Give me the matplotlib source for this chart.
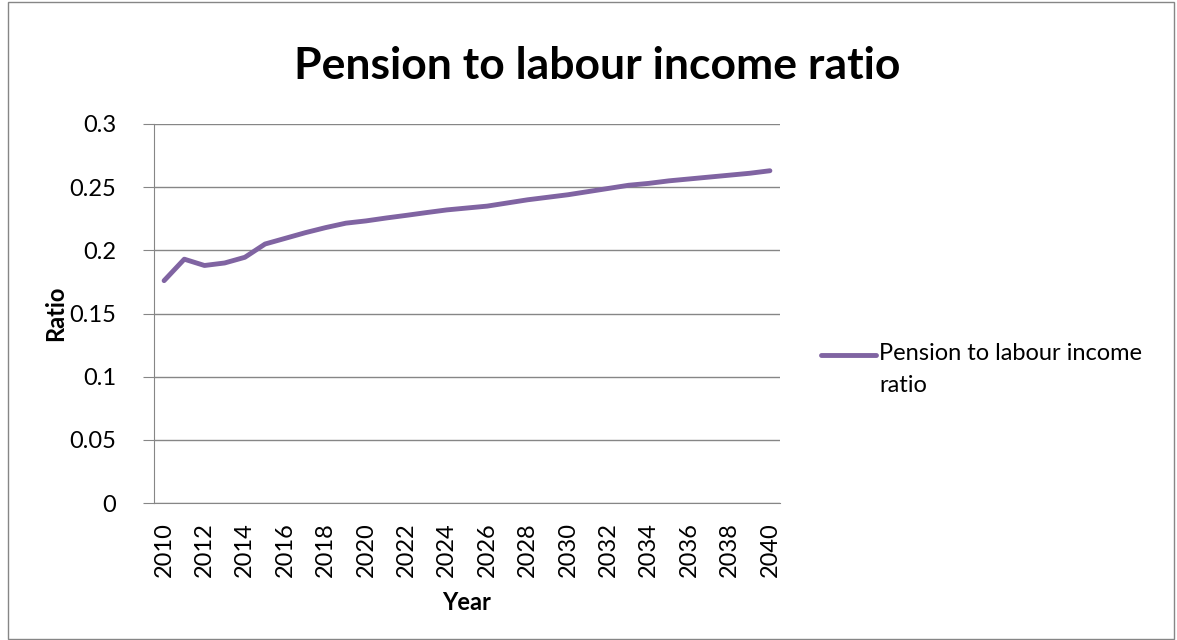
import matplotlib.pyplot as plt
from matplotlib.lines import Line2D
from matplotlib.patches import Rectangle

years = list(range(2010, 2041))
ratio = [0.176, 0.193, 0.188, 0.190, 0.1945, 0.205, 0.2095, 0.214, 0.218, 0.2215,
         0.2233, 0.2256, 0.2277, 0.2299, 0.232, 0.2335, 0.235, 0.2375, 0.240, 0.242,
         0.244, 0.2465, 0.249, 0.2515, 0.253, 0.255, 0.2565, 0.258, 0.2595, 0.261,
         0.263]
yticks = [0, 0.05, 0.1, 0.15, 0.2, 0.25, 0.3]
ytick_labels = ['0', '0.05', '0.1', '0.15', '0.2', '0.25', '0.3']
series_name = 'Pension to labour income\nratio'

plt.rcParams['font.family'] = ['Lato', 'DejaVu Sans']
purple = '#8064A2'
grey = '#868686'

fig = plt.figure(figsize=(11.77, 6.4), dpi=100)
fig.add_artist(Rectangle((8 / 1177, 1 / 640), 1166 / 1177, 637 / 640,
                         transform=fig.transFigure, fill=False, edgecolor=grey, lw=1))

ax = fig.add_axes([154 / 1177, 1 - 503 / 640, 626 / 1177, 379 / 640])
x = list(range(len(years)))
ax.plot(x, ratio, color=purple, lw=3.5, solid_capstyle='round')
ax.set_xlim(-0.5, len(years) - 0.5)
ax.set_ylim(0, 0.3)

ax.set_yticks(yticks)
ax.set_yticklabels(ytick_labels, fontsize=17)
ax.set_xticks(x[::2])
ax.set_xticklabels([str(y) for y in years[::2]], rotation=90, fontsize=17)
ax.tick_params(axis='x', length=0, pad=14)
ax.tick_params(axis='y', length=8, color=grey, pad=19, direction='out')
ax.grid(axis='y', color=grey, lw=1)
ax.set_axisbelow(True)
for side in ['top', 'right']:
    ax.spines[side].set_visible(False)
for side in ['left', 'bottom']:
    ax.spines[side].set_color(grey)

ax.set_xlabel('Year', fontsize=17, fontweight='bold', labelpad=10)
ax.set_ylabel('Ratio', fontsize=17, fontweight='bold', labelpad=2)
fig.text(597 / 1177, 1 - 66 / 640, 'Pension to labour income ratio', ha='center',
         va='center', fontsize=32, fontweight='bold')

# legend drawn by hand so the swatch sits beside the first text line
ly = 1 - 355 / 640
fig.add_artist(Line2D([821 / 1177, 876 / 1177], [ly, ly], transform=fig.transFigure,
                      color=purple, lw=3.5, solid_capstyle='round'))
fig.text(879 / 1177, 1 - 343 / 640, series_name, ha='left', va='top', fontsize=17,
         linespacing=1.65)

fig.savefig('out.png', dpi=100)
